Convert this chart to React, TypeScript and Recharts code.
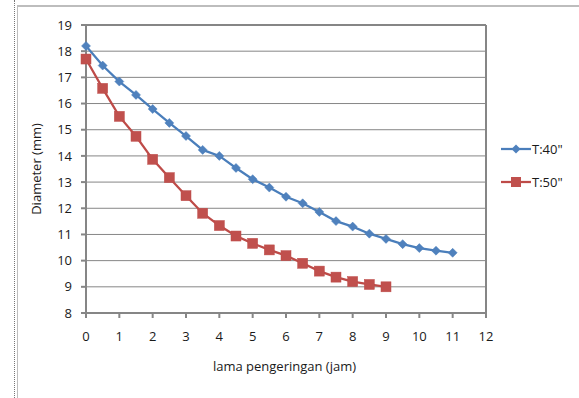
import React from "react";
import { LineChart, Line, XAxis, YAxis, CartesianGrid, ReferenceLine } from "recharts";

const hours40 = [0, 0.5, 1, 1.5, 2, 2.5, 3, 3.5, 4, 4.5, 5, 5.5, 6, 6.5, 7, 7.5, 8, 8.5, 9, 9.5, 10, 10.5, 11];
const diameter40 = [18.2, 17.45, 16.84, 16.33, 15.79, 15.26, 14.76, 14.23, 14.0, 13.54, 13.11, 12.79, 12.44, 12.19, 11.86, 11.51, 11.3, 11.03, 10.83, 10.63, 10.48, 10.38, 10.3];
const hours50 = [0, 0.5, 1, 1.5, 2, 2.5, 3, 3.5, 4, 4.5, 5, 5.5, 6, 6.5, 7, 7.5, 8, 8.5, 9];
const diameter50 = [17.7, 16.58, 15.51, 14.75, 13.87, 13.17, 12.48, 11.81, 11.34, 10.94, 10.66, 10.41, 10.19, 9.9, 9.6, 9.37, 9.2, 9.09, 9.0];
const xTicks = [0, 1, 2, 3, 4, 5, 6, 7, 8, 9, 10, 11, 12];
const yTicks = [8, 9, 10, 11, 12, 13, 14, 15, 16, 17, 18, 19];
const seriesNames = ['T:40"', 'T:50"'];

const data40 = hours40.map((x, i) => ({ x, y: diameter40[i] }));
const data50 = hours50.map((x, i) => ({ x, y: diameter50[i] }));

const BLUE = "#4A7EBB";
const BLUE_M = "#4F81BD";
const RED = "#BE4B48";
const RED_M = "#C0504D";
const GRID = "#868686";
const TEXT = "#1a1a1a";
const FONT = "'Open Sans', sans-serif";
const FS = 13;

const Diamond = (props: any) => {
  const { cx, cy, index } = props;
  if (cx == null || cy == null) return <g key={index} />;
  const r = 4.5;
  return (
    <path key={index} d={`M${cx},${cy - r}L${cx + r},${cy}L${cx},${cy + r}L${cx - r},${cy}Z`} fill={BLUE_M} stroke={BLUE} strokeWidth={0.5} />
  );
};

const Square = (props: any) => {
  const { cx, cy, index } = props;
  if (cx == null || cy == null) return <g key={index} />;
  const r = 5;
  return <rect key={index} x={cx - r} y={cy - r} width={2 * r} height={2 * r} fill={RED_M} stroke={RED} strokeWidth={0.5} />;
};

const LegendBox = () => (
  <div style={{ position: "absolute", left: 501, top: 141, fontFamily: FONT, fontSize: FS, color: TEXT, lineHeight: "16px" }}>
    <div style={{ display: "flex", alignItems: "center", height: 16, marginBottom: 17 }}>
      <svg width={30} height={12}>
        <line x1={0} y1={6} x2={30} y2={6} stroke={BLUE} strokeWidth={2.25} />
        <path d="M15,1.5L19.5,6L15,10.5L10.5,6Z" fill={BLUE_M} />
      </svg>
      <span style={{ marginLeft: 1 }}>{seriesNames[0]}</span>
    </div>
    <div style={{ display: "flex", alignItems: "center", height: 16 }}>
      <svg width={30} height={12}>
        <line x1={0} y1={6} x2={30} y2={6} stroke={RED} strokeWidth={2.25} />
        <rect x={10} y={1} width={10} height={10} fill={RED_M} />
      </svg>
      <span style={{ marginLeft: 1 }}>{seriesNames[1]}</span>
    </div>
  </div>
);

export default function App() {
  return (
    <div style={{ position: "absolute", left: 0, top: 0, width: 579, height: 398, background: "#fff", overflow: "hidden" }}>
      <style>{`body{margin:0;background:#fff}`}</style>
      <div style={{ position: "absolute", left: 14, top: 0, width: 0, height: 398, borderLeft: "1px dotted #777" }} />
      <div style={{ position: "absolute", left: 17, top: 5, width: 570, height: 400, borderLeft: "1px solid #bdbdbd", borderTop: "2px solid #bdbdbd" }} />
      <div style={{ position: "absolute", left: 0, top: 0 }}>
        <LineChart width={579} height={398} margin={{ top: 25, right: 93, bottom: 25, left: 26 }}>
          <CartesianGrid vertical={false} stroke={GRID} strokeWidth={1} />
          <XAxis
            type="number"
            dataKey="x"
            domain={[0, 12]}
            ticks={xTicks}
            interval={0}
            height={60}
            allowDuplicatedCategory={false}
            stroke={GRID}
            strokeWidth={2}
            tickSize={5}
            tick={{ fill: TEXT, fontSize: FS, fontFamily: FONT }}
            tickMargin={14}
            label={{ value: "lama pengeringan (jam)", position: "insideTop", offset: 49, fill: TEXT, fontSize: FS, fontFamily: FONT, dx: -1.5 }}
          />
          <YAxis
            type="number"
            domain={[8, 19]}
            ticks={yTicks}
            interval={0}
            width={60}
            stroke={GRID}
            strokeWidth={2}
            tickSize={5}
            tickMargin={9}
            tick={{ fill: TEXT, fontSize: FS, fontFamily: FONT }}
            label={{ value: "Diameter (mm)", angle: -90, position: "insideLeft", offset: 10, fill: TEXT, fontSize: FS, fontFamily: FONT, style: { textAnchor: "middle" } }}
          />
          <ReferenceLine x={12} stroke={GRID} strokeWidth={2} />
          <ReferenceLine y={19} stroke={GRID} strokeWidth={2} />
          <Line name={seriesNames[0]} data={data40} dataKey="y" stroke={BLUE} strokeWidth={2.25} dot={<Diamond />} activeDot={false} isAnimationActive={false} />
          <Line name={seriesNames[1]} data={data50} dataKey="y" stroke={RED} strokeWidth={2.25} dot={<Square />} activeDot={false} isAnimationActive={false} />
        </LineChart>
      </div>
      <LegendBox />
    </div>
  );
}
